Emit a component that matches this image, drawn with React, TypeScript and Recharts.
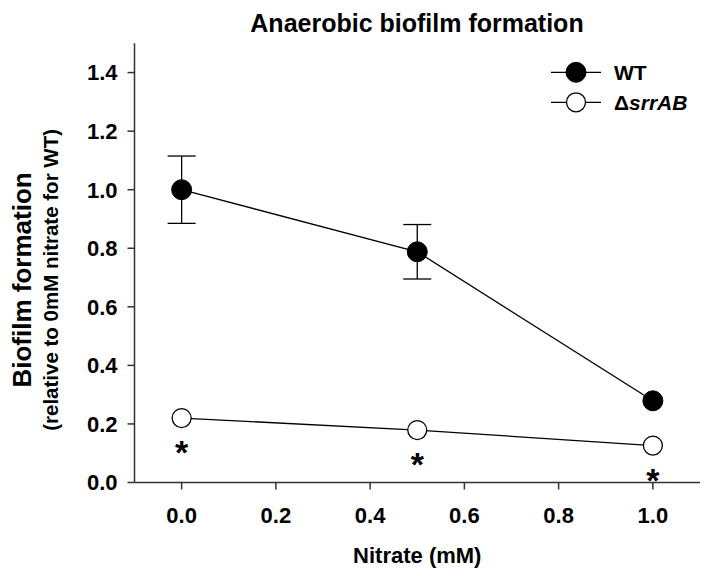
import { Customized, ErrorBar, Label, LabelList, Line, LineChart, XAxis, YAxis } from "recharts";

const nitrate = [0, 0.5, 1.0];
const wtMean = [1.0, 0.788, 0.279];
const wtErr = [0.115, 0.093, 0];
const srrABMean = [0.22, 0.179, 0.126];
const stars = ["*", "*", "*"];
const xTicks = [0, 0.2, 0.4, 0.6, 0.8, 1.0];
const yTicks = [0, 0.2, 0.4, 0.6, 0.8, 1.0, 1.2, 1.4];

const data = nitrate.map((x, i) => ({
  x,
  wt: wtMean[i],
  wtErr: wtErr[i],
  srrAB: srrABMean[i],
  star: stars[i],
}));

const font = '"Liberation Sans", Arial, Helvetica, sans-serif';
const axisColor = "#333";

function YLabel(props: any) {
  const vb = props.viewBox || { y: 43, height: 440 };
  const cy = vb.y + vb.height / 2 + 17;
  const common = {
    textAnchor: "middle" as const,
    dominantBaseline: "central" as const,
    fontWeight: "bold",
    fontFamily: font,
    fill: "#000",
  };
  return (
    <g>
      <text x={22} y={cy} transform={`rotate(-90, 22, ${cy})`} fontSize={26} {...common}>
        Biofilm formation
      </text>
      <text x={51} y={cy} transform={`rotate(-90, 51, ${cy})`} fontSize={20.5} {...common}>
        (relative to 0mM nitrate for WT)
      </text>
    </g>
  );
}

function Star(props: any) {
  const { x, y, value } = props;
  return (
    <text x={x} y={y + 46} textAnchor="middle" fontSize={34} fontWeight="bold" fontFamily={font} fill="#000">
      {value}
    </text>
  );
}

function Overlay() {
  return (
    <g fontFamily={font} fontWeight="bold" fill="#000">
      <text x={417} y={32} textAnchor="middle" fontSize={25}>
        Anaerobic biofilm formation
      </text>
      <line x1={551} x2={601} y1={72.3} y2={72.3} stroke="#000" strokeWidth={1.3} />
      <circle cx={576} cy={72.3} r={10} fill="#000" stroke="#000" />
      <text x={614} y={80} fontSize={21}>WT</text>
      <line x1={551} x2={601} y1={102.3} y2={102.3} stroke="#000" strokeWidth={1.3} />
      <circle cx={576} cy={102.3} r={9.5} fill="#fff" stroke="#000" strokeWidth={1.3} />
      <text x={614} y={110} fontSize={21}>
        Δ<tspan fontStyle="italic">srrAB</tspan>
      </text>
    </g>
  );
}

export default function App() {
  const tickStyle = { fontSize: 22, fontWeight: "bold", fill: "#000", fontFamily: font };
  return (
    <div style={{ position: "absolute", left: 0, top: 0, width: 717, height: 576, background: "#fff" }}>
      <LineChart width={717} height={576} data={data} margin={{ top: 43.3, right: 17, bottom: 0, left: 0 }}>
        <XAxis
          type="number"
          dataKey="x"
          domain={[-0.1, 1.1]}
          ticks={xTicks}
          tickFormatter={(v: number) => v.toFixed(1)}
          allowDataOverflow
          height={93.5}
          stroke={axisColor}
          strokeWidth={1.5}
          tickSize={7}
          tickMargin={17.5}
          tick={tickStyle}
        >
          <Label value="Nitrate (mM)" position="insideBottom" offset={13} style={{ fontSize: 22, fontWeight: "bold", fill: "#000", fontFamily: font }} />
        </XAxis>
        <XAxis xAxisId="top" orientation="top" type="number" domain={[-0.1, 1.1]} height={0} tick={false} tickLine={false} stroke={axisColor} strokeWidth={1.5} />
        <YAxis
          type="number"
          domain={[0, 1.5]}
          ticks={yTicks}
          tickFormatter={(v: number) => v.toFixed(1)}
          allowDataOverflow
          width={134.5}
          stroke={axisColor}
          strokeWidth={1.5}
          tickSize={7}
          tickMargin={10}
          tick={tickStyle}
        >
          <Label content={<YLabel />} />
        </YAxis>
        <YAxis yAxisId="right" orientation="right" domain={[0, 1.5]} width={0} tick={false} tickLine={false} stroke={axisColor} strokeWidth={1.5} />
        <Line
          dataKey="wt"
          stroke="#000"
          strokeWidth={1.3}
          isAnimationActive={false}
          dot={{ r: 10, fill: "#000", stroke: "#000", strokeWidth: 1 }}
          activeDot={false}
        >
          <ErrorBar dataKey="wtErr" direction="y" width={14} stroke="#000" strokeWidth={1.3} />
        </Line>
        <Line
          dataKey="srrAB"
          stroke="#000"
          strokeWidth={1.3}
          isAnimationActive={false}
          dot={{ r: 9.5, fill: "#fff", stroke: "#000", strokeWidth: 1.3 }}
          activeDot={false}
        >
          <LabelList dataKey="star" content={<Star />} />
        </Line>
        <Customized component={<Overlay />} />
      </LineChart>
    </div>
  );
}
